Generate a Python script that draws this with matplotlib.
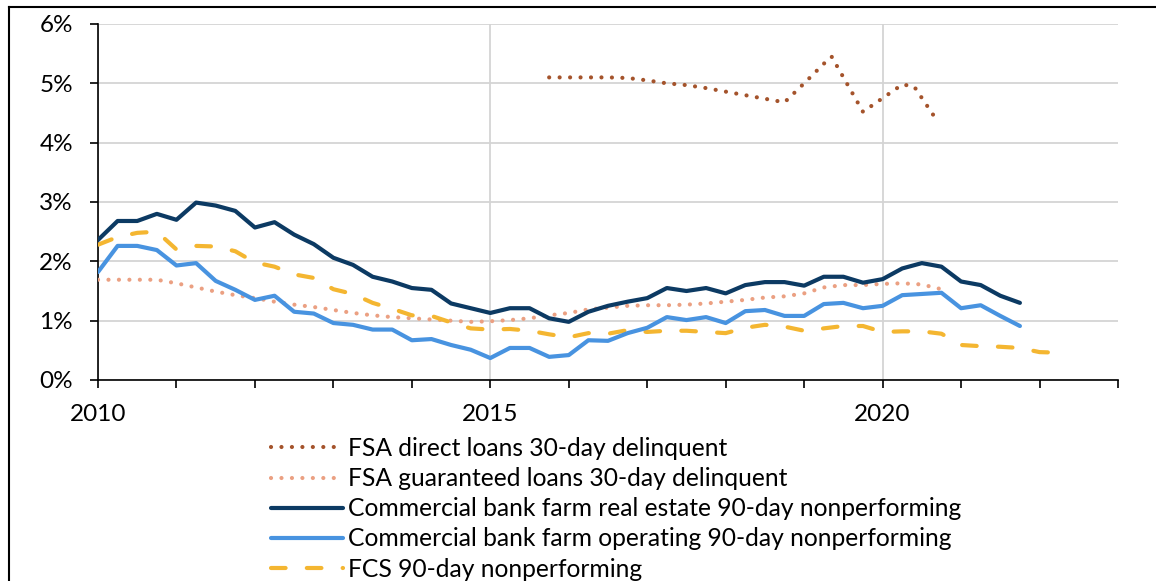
import matplotlib
matplotlib.use("Agg")
import matplotlib.pyplot as plt
from matplotlib.lines import Line2D
from matplotlib.ticker import FixedLocator, PercentFormatter
import numpy as np

# ---- data (percent) ----
q_start = 2010.0
real_estate = [2.36, 2.68, 2.68, 2.80, 2.70, 2.99, 2.94, 2.85, 2.57, 2.66, 2.45, 2.29,
               2.06, 1.94, 1.74, 1.66, 1.55, 1.52, 1.29, 1.21, 1.13, 1.21, 1.21, 1.04,
               0.98, 1.15, 1.25, 1.32, 1.38, 1.55, 1.50, 1.55, 1.46, 1.60, 1.65, 1.65,
               1.59, 1.74, 1.74, 1.64, 1.70, 1.88, 1.97, 1.91, 1.66, 1.60, 1.42, 1.30]
operating = [1.82, 2.26, 2.26, 2.19, 1.93, 1.97, 1.67, 1.52, 1.35, 1.42, 1.15, 1.12,
             0.96, 0.93, 0.85, 0.85, 0.67, 0.69, 0.59, 0.51, 0.37, 0.54, 0.54, 0.39,
             0.42, 0.67, 0.66, 0.79, 0.88, 1.06, 1.01, 1.06, 0.96, 1.16, 1.18, 1.08,
             1.08, 1.28, 1.30, 1.21, 1.25, 1.43, 1.45, 1.47, 1.21, 1.26, 1.08, 0.91]
fcs = [2.28, 2.41, 2.48, 2.50, 2.20, 2.26, 2.25, 2.17, 1.98, 1.91, 1.78, 1.72,
       1.53, 1.45, 1.30, 1.20, 1.09, 1.08, 0.97, 0.87, 0.85, 0.86, 0.83, 0.77,
       0.72, 0.79, 0.78, 0.84, 0.81, 0.83, 0.83, 0.81, 0.79, 0.88, 0.93, 0.90,
       0.83, 0.87, 0.91, 0.91, 0.81, 0.82, 0.82, 0.78, 0.59, 0.57, 0.56, 0.54,
       0.47, 0.46]
fsa_guar = [1.69, 1.69, 1.69, 1.69, 1.63, 1.56, 1.49, 1.43, 1.38, 1.32, 1.27, 1.23,
            1.18, 1.13, 1.09, 1.06, 1.04, 1.02, 1.00, 0.98, 0.99, 1.01, 1.04, 1.09,
            1.13, 1.19, 1.22, 1.25, 1.26, 1.26, 1.27, 1.29, 1.32, 1.35, 1.39, 1.41,
            1.46, 1.56, 1.60, 1.60, 1.62, 1.63, 1.61, 1.53]
fsa_direct_t = [2015.75, 2016.0, 2016.25, 2016.5, 2016.75, 2017.0, 2017.25, 2017.5,
                2017.75, 2018.0, 2018.25, 2018.5, 2018.75, 2019.0, 2019.25, 2019.35,
                2019.75, 2020.0, 2020.25, 2020.4, 2020.7]
fsa_direct = [5.10, 5.10, 5.10, 5.10, 5.09, 5.05, 5.00, 4.97, 4.92, 4.86, 4.80, 4.74,
              4.68, 5.00, 5.33, 5.45, 4.52, 4.75, 4.98, 4.95, 4.36]

labels = ["FSA direct loans 30-day delinquent",
          "FSA guaranteed loans 30-day delinquent",
          "Commercial bank farm real estate 90-day nonperforming",
          "Commercial bank farm operating 90-day nonperforming",
          "FCS 90-day nonperforming"]
year_labels = ["2010", "2015", "2020"]


def qtimes(vals):
    return q_start + 0.25 * np.arange(len(vals))


plt.rcParams['font.family'] = ['Lato', 'DejaVu Sans']

W, H = 1156, 581
fig = plt.figure(figsize=(W / 100, H / 100), dpi=100)
ax = fig.add_axes([98 / W, 1 - 380 / H, (1118 - 98) / W, (380 - 24) / H])

c_direct = '#A4532B'
c_guar = '#EBA082'
c_navy = '#0C3A63'
c_light = '#4893E0'
c_yel = '#F4B631'
lw = 3.0
dots = (0, (0.01, 2.5))

ax.plot(fsa_direct_t, fsa_direct, color=c_direct, lw=lw, ls=dots,
        dash_capstyle='round', label=labels[0], zorder=4)
ax.plot(qtimes(fsa_guar), fsa_guar, color=c_guar, lw=lw, ls=dots,
        dash_capstyle='round', label=labels[1], zorder=3)
ax.plot(qtimes(real_estate), real_estate, color=c_navy, lw=lw,
        solid_capstyle='round', solid_joinstyle='round', label=labels[2], zorder=5)
ax.plot(qtimes(operating), operating, color=c_light, lw=lw,
        solid_capstyle='round', solid_joinstyle='round', label=labels[3], zorder=5)
ax.plot(qtimes(fcs), fcs, color=c_yel, lw=lw, ls=(0, (3.5, 5.1)),
        dash_capstyle='round', label=labels[4], zorder=4)

ax.set_xlim(2010, 2023)
ax.set_ylim(0, 6)
ax.yaxis.set_major_locator(FixedLocator(np.arange(0, 7)))
ax.yaxis.set_major_formatter(PercentFormatter(decimals=0))
ax.set_xticks([2010, 2015, 2020])
ax.set_xticklabels(year_labels)
ax.set_xticks(np.arange(2010, 2024), minor=True)
ax.tick_params(axis='x', which='both', direction='out', length=6, width=1.2,
               color='black', pad=11, labelsize=17.5)
ax.tick_params(axis='y', which='major', direction='out', length=6, width=1.2,
               color='black', pad=12, labelsize=17.5)
ax.grid(axis='y', color='#D4D4D4', lw=1.3)
ax.grid(axis='x', which='major', color='#D4D4D4', lw=1.3)
ax.set_axisbelow(True)
for s in ['top', 'right']:
    ax.spines[s].set_visible(False)
for s in ['left', 'bottom']:
    ax.spines[s].set_linewidth(1.2)
    ax.spines[s].set_color('black')

leg = ax.legend(loc='upper left', bbox_to_anchor=(271 / W, 1 - 437 / H),
                bbox_transform=fig.transFigure, frameon=False, fontsize=17.75,
                handlelength=2.92, handletextpad=0.2, labelspacing=0.29,
                borderpad=0, borderaxespad=0)

# outer frame (top and left edges)
fig.add_artist(Line2D([9 / W, 1], [1 - 7 / H, 1 - 7 / H], transform=fig.transFigure,
                      color='black', lw=1.5))
fig.add_artist(Line2D([9 / W, 9 / W], [0, 1 - 7 / H], transform=fig.transFigure,
                      color='black', lw=1.5))

fig.savefig('out.png', dpi=100)
